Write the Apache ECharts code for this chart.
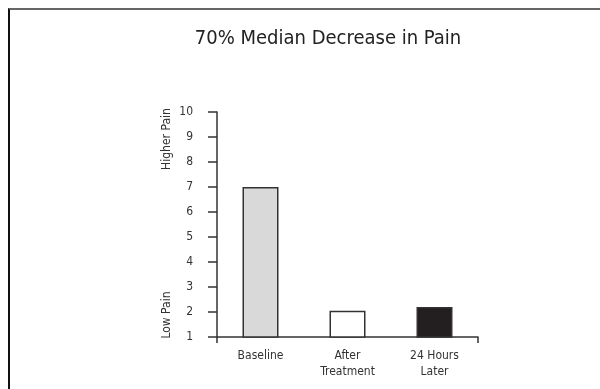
<!DOCTYPE html>
<html>
<head>
<meta charset="utf-8">
<script src="https://cdn.jsdelivr.net/npm/echarts@6/dist/echarts.min.js"></script>
<style>
  html, body { margin: 0; padding: 0; background: #fff; }
  #chart { width: 600px; height: 389px; }
  #frame {
    position: absolute; left: 8px; top: 8px; width: 600px; height: 400px;
    border-top: 2px solid #666; border-left: 2px solid #111;
    pointer-events: none;
  }
</style>
</head>
<body>
<div id="chart"></div>
<div id="frame"></div>
<script>
const FONT = "'Liberation Sans Narrow', 'DejaVu Sans Condensed', 'Roboto', sans-serif";

const categories = ["Baseline", "After\nTreatment", "24 Hours\nLater"];
const painScores = [7, 2.05, 2.2];
const barColors = ["#d9d9d9", "#ffffff", "#231f20"];
const yTicks = [1, 10, 1]; // min, max, interval

const chart = echarts.init(document.getElementById("chart"));

chart.setOption({
  animation: false,
  title: {
    text: "70% Median Decrease in Pain",
    left: 323,
    top: 24,
    textAlign: "center",
    textStyle: { fontFamily: FONT, fontSize: 20, fontWeight: "normal", color: "#222" },
  },
  grid: { left: 217, right: 122, top: 112, bottom: 52 },
  xAxis: {
    type: "category",
    data: categories,
    axisLine: { lineStyle: { color: "#333", width: 1.5 } },
    axisTick: { show: true, length: 6, interval: (i) => i === 0, lineStyle: { color: "#333", width: 1.5 } },
    axisLabel: { fontFamily: FONT, fontSize: 12, color: "#333", margin: 11, lineHeight: 16 },
  },
  yAxis: {
    type: "value",
    min: yTicks[0],
    max: yTicks[1],
    interval: yTicks[2],
    splitLine: { show: false },
    axisLine: { show: true, lineStyle: { color: "#333", width: 1.5 } },
    axisTick: { show: true, length: 9, lineStyle: { color: "#333", width: 1.5 } },
    axisLabel: { fontFamily: FONT, fontSize: 12, color: "#333", margin: 24 },
  },
  graphic: [
    {
      type: "text", x: 167, y: 139, rotation: Math.PI / 2,
      style: { text: "Higher Pain", fontFamily: FONT, fontSize: 12, fill: "#333", align: "center", verticalAlign: "middle" },
    },
    {
      type: "text", x: 167, y: 315, rotation: Math.PI / 2,
      style: { text: "Low Pain", fontFamily: FONT, fontSize: 12, fill: "#333", align: "center", verticalAlign: "middle" },
    },
  ],
  series: [{
    type: "bar",
    barWidth: 36,
    data: painScores.map((v, i) => ({
      value: v,
      itemStyle: { color: barColors[i], borderColor: "#333", borderWidth: 1.5 },
    })),
  }],
});
</script>
</body>
</html>
